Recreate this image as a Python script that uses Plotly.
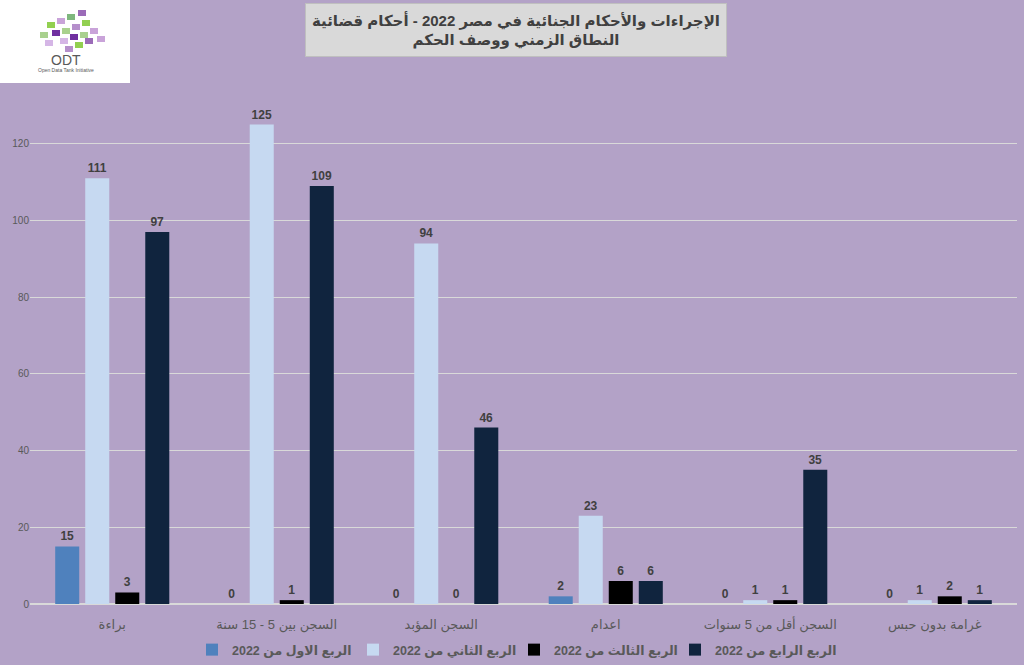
import plotly.graph_objects as go

categories = ["براءة", "السجن بين 5 - 15 سنة", "السجن المؤبد", "اعدام", "السجن أقل من 5 سنوات", "غرامة بدون حبس"]
series_names = ["الربع الاول من 2022", "الربع الثاني من 2022", "الربع الثالث من 2022", "الربع الرابع من 2022"]
q1 = [15, 0, 0, 2, 0, 0]
q2 = [111, 125, 94, 23, 1, 1]
q3 = [3, 1, 0, 6, 1, 2]
q4 = [97, 109, 46, 6, 35, 1]
colors = ["#4F81BD", "#C6D9F1", "#000000", "#10243E"]
y_ticks = [0, 20, 40, 60, 80, 100, 120, 140]

W, H = 1024, 665
ML, MR, MT, MB = 30, 7, 67, 61
PW, PH = W - ML - MR, H - MT - MB

def px(x):
    return (x - ML) / PW

def py(y):
    return (H - MB - y) / PH

FONT = "Arial, Liberation Sans, DejaVu Sans, sans-serif"

fig = go.Figure()
for name, vals, col in zip(series_names, [q1, q2, q3, q4], colors):
    fig.add_trace(go.Bar(
        x=categories, y=vals, name=name,
        marker=dict(color=col, line=dict(width=0)),
        text=[str(v) for v in vals], textposition="outside",
        textfont=dict(family=FONT, size=12, color="#404040", weight="bold"),
        cliponaxis=False,
    ))

fig.update_layout(
    width=W, height=H,
    margin=dict(l=ML, r=MR, t=MT, b=MB, pad=0, autoexpand=False),
    paper_bgcolor="#B3A2C7", plot_bgcolor="#B3A2C7",
    barmode="group", bargap=0.27, bargroupgap=0.2,
    font=dict(family=FONT, color="#595959"),
    showlegend=True,
    legend=dict(orientation="h", x=px(192), xanchor="left", y=py(650), yanchor="middle",
                font=dict(size=12.5, color="#595959", family=FONT, weight="bold"),
                bgcolor="rgba(0,0,0,0)", entrywidth=116, entrywidthmode="pixels",
                itemsizing="constant"),
    xaxis=dict(showgrid=False, showline=False, ticks="", tickfont=dict(size=13, color="#595959"),
               ticklabelstandoff=11, automargin=False),
    yaxis=dict(range=[0, 140], tickvals=y_ticks, showgrid=True, gridcolor="#D9D9D9", gridwidth=1,
               zeroline=True, zerolinecolor="#D9D9D9", zerolinewidth=1.5, showline=False,
               tickfont=dict(size=10, color="#595959"), ticks="", automargin=False),
)

# Title box
fig.add_annotation(
    xref="paper", yref="paper", x=px(516), y=py(30), xanchor="center", yanchor="middle",
    text="الإجراءات والأحكام الجنائية في مصر 2022 - أحكام قضائية<br>النطاق الزمني ووصف الحكم",
    showarrow=False, bgcolor="#D9D9D9", bordercolor="#BFBFBF", borderwidth=1,
    width=418, height=50, borderpad=1,
    font=dict(family=FONT, size=15, color="#404040", weight="bold"),
)

# Logo box (decoration)
shapes = [dict(type="rect", xref="paper", yref="paper", x0=px(0), x1=px(130), y0=py(83), y1=py(0),
               fillcolor="white", line=dict(width=0), layer="above")]
cubes = [(47, 22, "#92D050"), (57, 18, "#C9A3D9"), (67, 14, "#7FB77E"), (52, 30, "#7030A0"),
         (62, 28, "#A9D18E"), (72, 24, "#B58FCB"), (82, 20, "#92D050"), (60, 38, "#D5B6E6"),
         (70, 34, "#7030A0"), (80, 32, "#A9D18E"), (90, 28, "#C9A3D9"), (75, 42, "#92D050"),
         (85, 38, "#9B6BB8"), (97, 36, "#C9A3D9"), (40, 32, "#A9D18E"), (65, 46, "#B58FCB"),
         (78, 10, "#9B6BB8"), (45, 40, "#D5B6E6")]
for cx, cy, c in cubes:
    shapes.append(dict(type="rect", xref="paper", yref="paper", x0=px(cx), x1=px(cx + 8),
                       y0=py(cy + 6), y1=py(cy), fillcolor=c, line=dict(width=0), layer="above"))
fig.update_layout(shapes=shapes)
fig.add_annotation(xref="paper", yref="paper", x=px(66), y=py(60), text="ODT", showarrow=False,
                   font=dict(family=FONT, size=14, color="#595959"), xanchor="center", yanchor="middle")
fig.add_annotation(xref="paper", yref="paper", x=px(66), y=py(70), text="Open Data Tank Initiative",
                   showarrow=False, font=dict(family=FONT, size=5, color="#595959"),
                   xanchor="center", yanchor="middle")

fig.write_html("out.html", config={"displayModeBar": False},
               post_script="document.body.style.margin='0';")
